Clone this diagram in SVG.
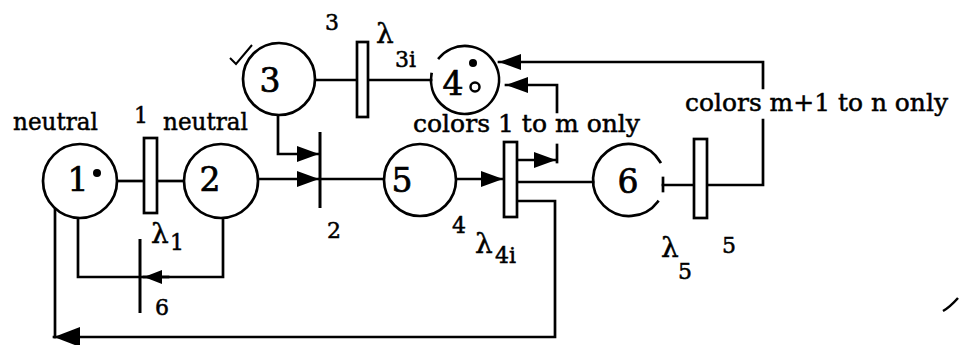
<svg xmlns="http://www.w3.org/2000/svg" width="959" height="345" viewBox="0 0 959 345">
<style>
  .ln{fill:none;stroke:#000;stroke-width:2.7;stroke-linecap:square}
  .pl{fill:#fff;stroke:#000;stroke-width:2.7}
  .tr{fill:#fff;stroke:#000;stroke-width:2.7}
  .bar{stroke:#000;stroke-width:3}
  text{font-family:"DejaVu Serif","Liberation Serif",serif;fill:#000;stroke:#000;stroke-width:0.5}
  .lb{font-size:25px}
  .dg{font-size:33px;text-anchor:middle;stroke-width:0.7}
  .sm{font-size:22px}
  .lam{font-size:28px}
</style>
<defs>
  <marker id="ah" markerUnits="userSpaceOnUse" markerWidth="24" markerHeight="18" refX="22" refY="8" orient="auto">
    <path d="M0,0 L22,8 L0,16 z" fill="#000"/>
  </marker>
  <marker id="ahs" markerUnits="userSpaceOnUse" markerWidth="20" markerHeight="16" refX="18" refY="7" orient="auto">
    <path d="M0,0 L18,7 L0,14 z" fill="#000"/>
  </marker>
  <marker id="ahb" markerUnits="userSpaceOnUse" markerWidth="28" markerHeight="22" refX="26" refY="10" orient="auto">
    <path d="M0,0 L26,10 L0,20 z" fill="#000"/>
  </marker>
</defs>

<g id="connectors">
  <path class="ln" d="M117,181 H144"/>
  <path class="ln" d="M157,181 H184"/>
  <path class="ln" d="M315,80 H357"/>
  <path class="ln" d="M368,80 H431"/>
  <path class="ln" d="M278,116 V154 H319" marker-end="url(#ah)"/>
  <path class="ln" d="M258,179 H319" marker-end="url(#ah)"/>
  <path class="ln" d="M320,179 H385"/>
  <path class="ln" d="M455,179 H503" marker-end="url(#ah)"/>
  <path class="ln" d="M517,182 H593"/>
  <path class="ln" d="M517,160 H556" marker-end="url(#ah)"/>
  <path class="ln" d="M557,145 V162"/>
  <path class="ln" d="M557,112 V85 H506" marker-end="url(#ah)"/>
  <path class="ln" d="M663,185 H694"/>
  <path class="ln" d="M663,178 V191"/>
  <path class="ln" d="M707,185 H763 V120"/>
  <path class="ln" d="M763,88 V62 H499" marker-end="url(#ah)"/>
  <path class="ln" d="M517,201 H555 V337 H54" marker-end="url(#ahb)"/>
  <path class="ln" d="M55,208 V337"/>
  <path class="ln" d="M78,217 V277 H223 V217"/>
  <path class="ln" d="M168,277 H144" marker-end="url(#ahs)"/>
</g>

<g id="p1">
  <circle class="pl" cx="80" cy="181" r="37"/>
  <text class="dg" x="78" y="191">1</text>
  <circle cx="97" cy="173" r="4" fill="#000"/>
  <text class="lb" x="13" y="130" textLength="85" lengthAdjust="spacingAndGlyphs">neutral</text>
</g>
<g id="p2">
  <circle class="pl" cx="221" cy="181" r="37"/>
  <text class="dg" x="210" y="191">2</text>
  <text class="lb" x="163" y="130" textLength="85" lengthAdjust="spacingAndGlyphs">neutral</text>
</g>
<g id="p3">
  <circle class="pl" cx="279" cy="79" r="36"/>
  <text class="dg" x="270" y="92">3</text>
</g>
<g id="p4">
  <path class="ln" d="M439,58 A34,34 0 1 1 431.5,74.1"/>
  <text class="dg" x="453" y="95">4</text>
  <circle cx="473" cy="63" r="4" fill="#000"/>
  <circle cx="475" cy="87" r="4.5" fill="none" stroke="#000" stroke-width="2.5"/>
</g>
<g id="p5">
  <circle class="pl" cx="420" cy="180" r="36"/>
  <text class="dg" x="402" y="192">5</text>
</g>
<g id="p6">
  <path class="ln" d="M657.8,201.7 A36,36 0 1 1 660.2,162"/>
  <text class="dg" x="628" y="193">6</text>
</g>

<g id="t1">
  <rect class="tr" x="144" y="138" width="13" height="75"/>
  <text class="sm" x="134" y="123">1</text>
  <text class="lam" x="151" y="243">λ</text>
  <text class="sm" x="170" y="250">1</text>
</g>
<g id="t2">
  <line class="bar" x1="320" y1="132" x2="320" y2="208"/>
  <text class="sm" x="327" y="238">2</text>
</g>
<g id="t3">
  <rect class="tr" x="357" y="42" width="11" height="75"/>
  <text class="sm" x="325" y="30">3</text>
  <text class="lam" x="376" y="43">λ</text>
  <text class="sm" x="395" y="67">3i</text>
</g>
<g id="t4">
  <rect class="tr" x="504" y="142" width="13" height="75"/>
  <text class="sm" x="452" y="233">4</text>
  <text class="lam" x="475" y="253">λ</text>
  <text class="sm" x="495" y="263">4i</text>
  <text class="lb" x="413" y="132" textLength="227" lengthAdjust="spacingAndGlyphs">colors 1 to m only</text>
</g>
<g id="t5">
  <rect class="tr" x="694" y="139" width="13" height="79"/>
  <text class="sm" x="722" y="253">5</text>
  <text class="lam" x="661" y="257">λ</text>
  <text class="sm" x="678" y="279">5</text>
  <text class="lb" x="685" y="111" textLength="263" lengthAdjust="spacingAndGlyphs">colors m+1 to n only</text>
</g>
<g id="t6">
  <line class="bar" x1="140" y1="239" x2="140" y2="313"/>
  <text class="sm" x="155" y="315">6</text>
</g>

<g id="marks">
  <path d="M230,58 L236,64 L252,45" fill="none" stroke="#000" stroke-width="2"/>
  <path d="M943,311 Q950,307 958,298" fill="none" stroke="#000" stroke-width="2.5"/>
</g>
</svg>
